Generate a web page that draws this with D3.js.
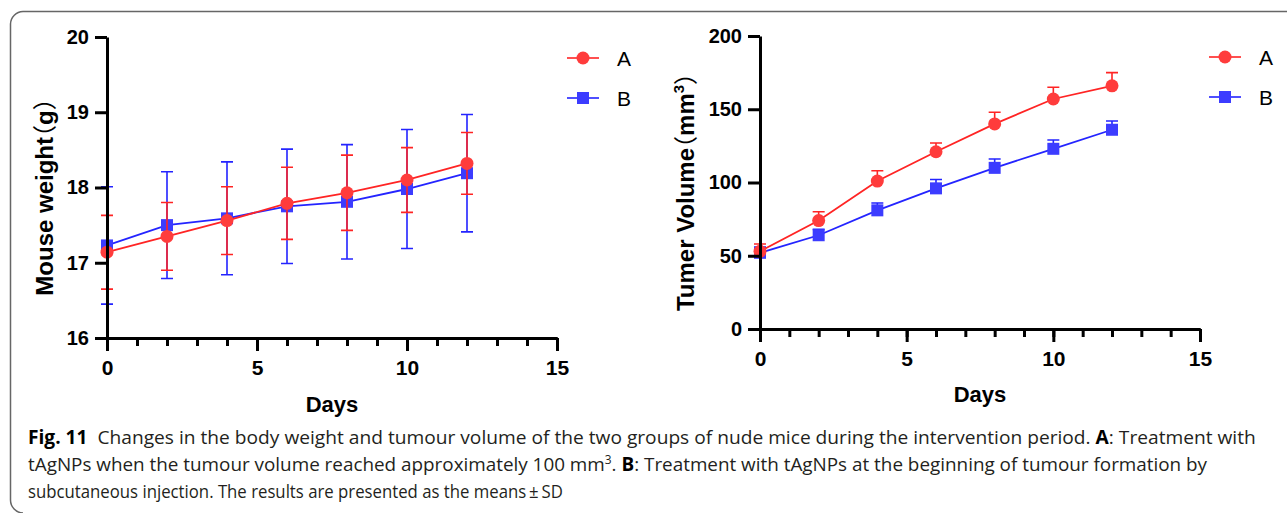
<!DOCTYPE html>
<html>
<head>
<meta charset="utf-8">
<script src="https://cdn.jsdelivr.net/npm/d3@7"></script>
<style>
  body { margin: 0; background: #fff; }
  svg { display: block; }
  .axis path, .axis line { stroke: #000; stroke-width: 3; }
  .axis text { font-family: "Liberation Sans", Arial, sans-serif; font-weight: bold; font-size: 20px; fill: #000; }
  .axis.x text { font-size: 21px; }
  .title { font-family: "Liberation Sans", Arial, "Noto Sans CJK SC", sans-serif; font-weight: bold; font-size: 24px; fill: #000; }
  .title .paren { font-family: "Noto Sans CJK SC", sans-serif; font-weight: normal; }
  .days { font-size: 22px; }
  .legend text { font-family: "Liberation Sans", Arial, sans-serif; font-size: 21px; fill: #000; }
  .caption { font-family: "Open Sans", "Noto Sans", sans-serif; font-size: 19px; fill: #231f20; }
</style>
</head>
<body>
<script>
// values
const days = [0, 2, 4, 6, 8, 10, 12];
const weightA = [17.14, 17.35, 17.56, 17.79, 17.93, 18.10, 18.32];
const weightASd = [0.49, 0.45, 0.45, 0.48, 0.50, 0.43, 0.41];
const weightB = [17.23, 17.50, 17.59, 17.75, 17.81, 17.98, 18.19];
const weightBSd = [0.78, 0.71, 0.75, 0.76, 0.76, 0.79, 0.78];
const volumeA = [53, 74, 101, 121, 140, 157, 166];
const volumeASd = [5, 6, 7, 6, 8, 8, 9];
const volumeB = [52, 64, 81, 96, 110, 123, 136];
const volumeBSd = [4, 4, 5, 6, 6, 6, 6];
const groups = ["A", "B"];
const xMajorTicks = [0, 5, 10, 15];
const xMinorTicks = d3.range(0, 16);
const weightTicks = [16, 17, 18, 19, 20];
const volumeTicks = [0, 50, 100, 150, 200];

const RED = "#ff2424", RED_FILL = "#ff3c3c";
const BLUE = "#2424ff", BLUE_FILL = "#3c3cff";

const svg = d3.select("body").append("svg")
    .attr("width", 1287)
    .attr("height", 513);

// frame round the figure
svg.append("path")
    .attr("d", "M1287,11.5 H23 A13,13 0 0 0 10.5,24 V500 A13,13 0 0 0 23,513")
    .attr("fill", "none")
    .attr("stroke", "#666")
    .attr("stroke-width", 1.5);

function marker(g, shape, x, y, color) {
  if (shape === "circle") {
    g.append("circle").attr("cx", x).attr("cy", y).attr("r", 6.5).attr("fill", color);
  } else {
    g.append("rect").attr("x", x - 6).attr("y", y - 6).attr("width", 12).attr("height", 12).attr("fill", color);
  }
}

function drawPlot(opts) {
  let x = d3.scaleLinear().domain([0, 15]).range(opts.xRange);
  let y = d3.scaleLinear().domain(opts.yDomain).range(opts.yRange);
  let g = svg.append("g");

  // series, B under A
  let series = [
    { values: opts.b, sd: opts.bSd, line: BLUE, fill: BLUE_FILL, shape: "rect" },
    { values: opts.a, sd: opts.aSd, line: RED, fill: RED_FILL, shape: "circle" }
  ];
  for (let s of series) {
    let pts = days.map((d, i) => ({ d, v: s.values[i], sd: s.sd[i] }));
    let sg = g.append("g");
    sg.selectAll(".bar").data(pts).enter().append("path")
        .attr("class", "bar")
        .attr("fill", "none")
        .attr("stroke", s.line)
        .attr("stroke-width", 1.6)
        .attr("d", p => {
          let cx = x(p.d);
          let top = y(p.v + p.sd);
          let bot = opts.upOnly ? y(p.v) : y(p.v - p.sd);
          let path = `M${cx},${top} V${bot} M${cx - 6},${top} H${cx + 6}`;
          if (!opts.upOnly) path += ` M${cx - 6},${bot} H${cx + 6}`;
          return path;
        });
    sg.append("path")
        .datum(pts)
        .attr("fill", "none")
        .attr("stroke", s.line)
        .attr("stroke-width", 1.8)
        .attr("d", d3.line().x(p => x(p.d)).y(p => y(p.v)));
    pts.forEach(p => marker(sg, s.shape, x(p.d), y(p.v), s.fill));
  }

  // axes
  let x0 = opts.yRange[0];
  g.append("g")
      .attr("class", "axis x")
      .attr("transform", `translate(0,${x0})`)
      .call(d3.axisBottom(x).tickValues(xMinorTicks).tickSize(8).tickSizeOuter(0).tickFormat(""));
  g.append("g")
      .attr("class", "axis x")
      .attr("transform", `translate(0,${x0})`)
      .call(d3.axisBottom(x).tickValues(xMajorTicks).tickSize(13).tickSizeOuter(0).tickPadding(9).tickFormat(d3.format("d")));
  g.append("g")
      .attr("class", "axis y")
      .attr("transform", `translate(${opts.xRange[0]},0)`)
      .call(d3.axisLeft(y).tickValues(opts.yTicks).tickSize(12).tickSizeOuter(0).tickPadding(6).tickFormat(d3.format("d")));

  g.append("text")
      .attr("class", "title days")
      .attr("x", opts.daysPos[0])
      .attr("y", opts.daysPos[1])
      .attr("text-anchor", "middle")
      .text("Days");

  let yt = g.append("text")
      .attr("class", "title")
      .attr("transform", `translate(${opts.yTitlePos[0]},${opts.yTitlePos[1]}) rotate(-90)`)
      .attr("text-anchor", "middle");
  opts.yTitle(yt);

  // legend
  let lg = g.append("g").attr("class", "legend");
  groups.forEach((name, i) => {
    let ly = opts.legendY[i];
    let color = i === 0 ? RED : BLUE;
    let fill = i === 0 ? RED_FILL : BLUE_FILL;
    lg.append("line")
        .attr("x1", opts.legendX).attr("x2", opts.legendX + 32)
        .attr("y1", ly).attr("y2", ly)
        .attr("stroke", color).attr("stroke-width", 1.6);
    marker(lg, i === 0 ? "circle" : "rect", opts.legendX + 16, ly, fill);
    lg.append("text")
        .attr("x", opts.legendX + 50)
        .attr("y", ly + 8)
        .text(name);
  });
}

drawPlot({
  xRange: [107, 557],
  yDomain: [16, 20],
  yRange: [338, 37],
  yTicks: weightTicks,
  a: weightA, aSd: weightASd, b: weightB, bSd: weightBSd,
  upOnly: false,
  daysPos: [332, 412],
  yTitlePos: [53, 191],
  yTitle: t => {
    t.append("tspan").text("Mouse weight");
    t.append("tspan").attr("class", "paren").attr("dx", -12).text("（");
    t.append("tspan").text("g");
    t.append("tspan").attr("class", "paren").text("）");
  },
  legendX: 567,
  legendY: [58, 98]
});

drawPlot({
  xRange: [760, 1200],
  yDomain: [0, 200],
  yRange: [329, 36],
  yTicks: volumeTicks,
  a: volumeA, aSd: volumeASd, b: volumeB, bSd: volumeBSd,
  upOnly: true,
  daysPos: [980, 402],
  yTitlePos: [694, 186],
  yTitle: t => {
    t.append("tspan").text("Tumer Volume");
    t.append("tspan").attr("class", "paren").attr("dx", -12).text("（");
    t.append("tspan").text("mm");
    t.append("tspan").attr("dy", -10).attr("font-size", 15).text("3");
    t.append("tspan").attr("class", "paren").attr("dy", 10).text("）");
  },
  legendX: 1209,
  legendY: [57, 97]
});

// caption, each line squeezed to the width it has in the figure
const captionLines = [
  [["Fig. 11", true], ["  Changes in the body weight and tumour volume of the two groups of nude mice during the intervention period. ", false], ["A", true], [": Treatment with", false]],
  [["tAgNPs when the tumour volume reached approximately 100 mm", false], ["3", false, true], [". ", false], ["B", true], [": Treatment with tAgNPs at the beginning of tumour formation by", false]],
  [["subcutaneous injection. The results are presented as the means\u2009\u00b1\u2009SD", false]]
];
const captionWidths = [1228, 1180, 535];
const captionY = [444, 471, 498];

captionLines.forEach((parts, i) => {
  let t = svg.append("text")
      .attr("class", "caption")
      .attr("x", 28)
      .attr("y", captionY[i])
      .attr("xml:space", "preserve");
  let raised = false;
  for (let [str, bold, sup] of parts) {
    let ts = t.append("tspan").text(str);
    if (bold) ts.attr("font-weight", "bold").attr("fill", "#000");
    if (sup) { ts.attr("font-size", 12).attr("dy", -7); raised = true; }
    else if (raised) { ts.attr("dy", 7); raised = false; }
  }
  let w = t.node().getComputedTextLength();
  t.attr("transform", `translate(28,0) scale(${captionWidths[i] / w},1) translate(-28,0)`);
});
</script>
</body>
</html>
